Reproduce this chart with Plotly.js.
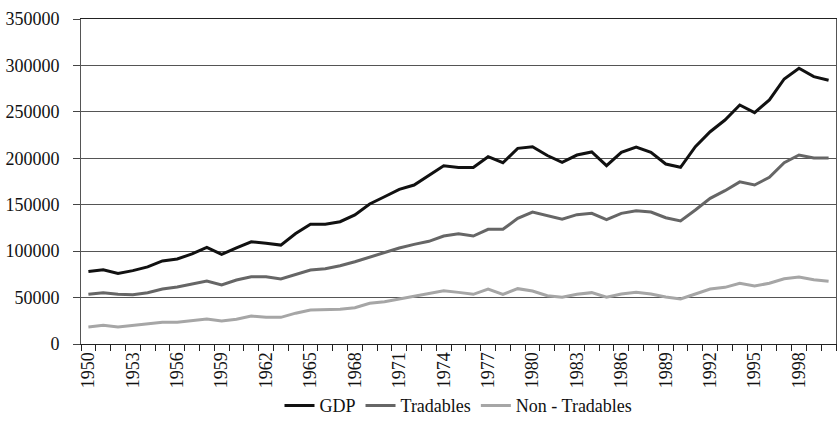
<!DOCTYPE html>
<html>
<head>
<meta charset="utf-8">
<script src="https://cdn.plot.ly/plotly-3.0.1.min.js"></script>
<style>
html,body{margin:0;padding:0;background:#fff;}
#chart{width:837px;height:435px;}
</style>
</head>
<body>
<div id="chart"></div>
<script>
const years = [];
for (let y = 1950; y <= 2000; y++) years.push(y);

const gdp = [78000, 80000, 76000, 79000, 83000, 89500, 91500, 97000, 104000, 96500,
  103500, 110000, 108500, 106500, 119000, 129000, 129000, 131700, 139000, 150800,
  158600, 166600, 171200, 182000, 192000, 190000, 190000, 201700, 195200, 210700,
  212500, 203000, 195700, 203500, 206800, 192000, 206400, 212100, 206400, 193800,
  190300, 212500, 228600, 241200, 257400, 249100, 262800, 285400, 296900, 287900, 284000];

const tradables = [53500, 55300, 53500, 53100, 55300, 59200, 61400, 64600, 67800, 63500,
  68900, 72500, 72500, 70000, 75200, 79700, 81100, 84300, 88600, 93400,
  98300, 103400, 107300, 110600, 116300, 118800, 116300, 123500, 123500, 135400,
  142100, 138500, 134300, 139300, 140700, 133900, 140700, 143600, 142100, 136000,
  132500, 144300, 156900, 165100, 174600, 171200, 179500, 195200, 203500, 200300, 200300];

const nonTradables = [18300, 20100, 18300, 20100, 21500, 23300, 23300, 25100, 26900, 24800,
  26600, 30200, 28700, 28700, 33200, 36600, 36600, 37300, 39100, 43800,
  45600, 48500, 51000, 54200, 57400, 55600, 53500, 59200, 53500, 59600,
  57100, 52000, 50300, 53500, 55300, 50300, 53800, 55600, 53800, 50600,
  48500, 53800, 59200, 61000, 65400, 62500, 65400, 70300, 72100, 69200, 67500];

const tickYears = [1950, 1953, 1956, 1959, 1962, 1965, 1968, 1971, 1974, 1977, 1980, 1983, 1986, 1989, 1992, 1995, 1998];
const yTicks = [0, 50000, 100000, 150000, 200000, 250000, 300000, 350000];
const seriesNames = ['GDP', 'Tradables', 'Non - Tradables'];
const seriesColors = ['#111111', '#666666', '#a6a6a6'];

const FAM = 'Liberation Serif';
const serif = s => `<span style="font-family:'${FAM}',serif">${s}</span>`;
function serifFont() { return {family: FAM, size: 18, color: '#111'}; }

const traces = [gdp, tradables, nonTradables].map((vals, i) => ({
  type: 'scatter', mode: 'lines', x: years, y: vals, name: serif(seriesNames[i]),
  line: {color: seriesColors[i], width: 3}
}));

const layout = {
  width: 837, height: 435,
  margin: {l: 81, r: 1, t: 19, b: 91},
  paper_bgcolor: '#fff', plot_bgcolor: '#fff',
  font: serifFont(),
  showlegend: true,
  legend: {orientation: 'h', x: 0.5, xanchor: 'center', y: -0.19, yanchor: 'middle',
    font: serifFont()},
  xaxis: {
    range: [1949.5, 2000.5], tickmode: 'array', tickvals: tickYears, ticktext: tickYears.map(v => serif(String(v))),
    ticks: '', tickangle: -90, showgrid: false, zeroline: false,
    showline: true, linecolor: '#222', linewidth: 1, mirror: true,
    minor: {tick0: 1949.5, dtick: 1, ticks: 'outside', ticklen: 6, tickcolor: '#222', showgrid: false},
    tickfont: serifFont()
  },
  yaxis: {
    range: [0, 350000], tickmode: 'array', tickvals: yTicks, ticktext: yTicks.map(v => serif(String(v))),
    ticks: 'outside', ticklen: 7, tickcolor: '#444',
    showgrid: true, gridcolor: '#555', gridwidth: 1, zeroline: false,
    showline: true, linecolor: '#555', linewidth: 1, mirror: true,
    tickfont: serifFont(), ticklabelstandoff: 10
  }
};

Plotly.newPlot('chart', traces, layout, {displayModeBar: false, staticPlot: true});
</script>
</body>
</html>
